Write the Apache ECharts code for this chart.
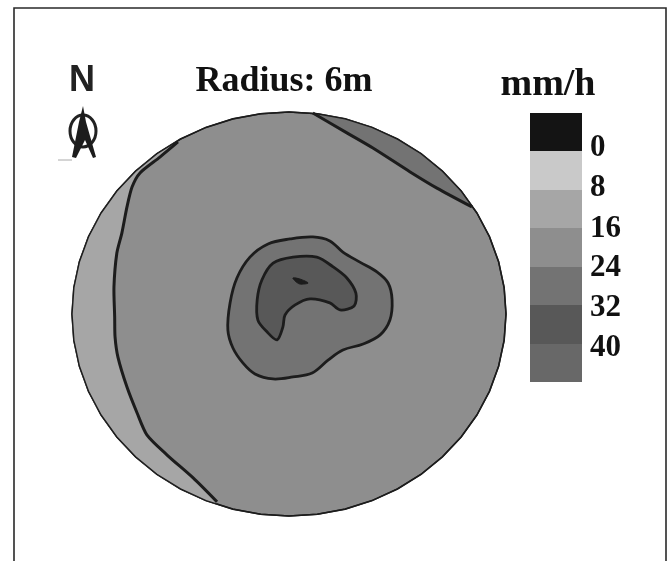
<!DOCTYPE html>
<html><head><meta charset="utf-8">
<style>html,body{margin:0;padding:0;background:#fff}#c{width:672px;height:561px}</style>
<script src="https://cdn.jsdelivr.net/npm/echarts@6/dist/echarts.min.js"></script>
</head><body><div id="c"></div>
<script>
// Contours in metres from plot centre (x east, y north)
const westContour=[[-3.07,5.11],[-3.57,4.66],[-4.12,4.19],[-4.34,3.77],[-4.48,3.18],[-4.62,2.41],[-4.76,1.81],[-4.84,0.80],[-4.82,-0.09],[-4.81,-0.68],[-4.73,-1.28],[-4.48,-2.17],[-4.20,-2.94],[-3.93,-3.59],[-3.37,-4.19],[-2.65,-4.87],[-1.99,-5.58]];
const northEastContour=[[0.66,5.97],[1.60,5.38],[2.32,4.93],[3.35,4.22],[4.09,3.74],[5.06,3.18]];
const middleContour=[[-0.58,2.08],[0.03,2.23],[0.66,2.29],[1.13,2.17],[1.49,1.84],[1.96,1.54],[2.43,1.25],[2.74,0.92],[2.85,0.42],[2.79,-0.18],[2.52,-0.62],[2.05,-0.89],[1.49,-1.07],[1.08,-1.37],[0.64,-1.75],[0.11,-1.87],[-0.44,-1.93],[-0.94,-1.78],[-1.27,-1.46],[-1.55,-1.01],[-1.69,-0.48],[-1.63,0.33],[-1.44,1.07],[-1.08,1.69]];
const innerContour=[[-0.88,0.42],[-0.75,1.01],[-0.44,1.51],[0.11,1.69],[0.77,1.69],[1.22,1.40],[1.60,1.07],[1.85,0.62],[1.80,0.24],[1.41,0.12],[1.13,0.33],[0.58,0.45],[0.17,0.27],[-0.11,-0.03],[-0.17,-0.39],[-0.33,-0.77],[-0.61,-0.53],[-0.86,-0.18]];
const coreContour=[[0.11,1.07],[0.30,1.04],[0.53,0.92],[0.30,0.89],[0.17,0.98]];
const radius=6;
const legendColors=['#141414','#c9c9c9','#a6a6a6','#8e8e8e','#737373','#585858','#686868'];
const legendBands=[0,1,2,3,4,5,6];
const legendLabels=['0','8','16','24','32','40'];
const legendLabelY=[148,188,229,268,308,348];
const LINE='#1c1c1c', SERIF='"Liberation Serif",serif';

function arc(from,to,clockwise){
  let a=Math.atan2(from[1],from[0]),b=Math.atan2(to[1],to[0]);
  if(clockwise){while(b>a)b-=2*Math.PI}else{while(b<a)b+=2*Math.PI}
  const pts=[];
  for(let i=0;i<=48;i++){const t=a+(b-a)*i/48;pts.push([radius*Math.cos(t),radius*Math.sin(t)])}
  return pts;
}
const disc=arc([1,0],[1,-1e-6],false);
const layers=[
 {pts:disc,fill:legendColors[3],stroke:LINE,w:1.6,smooth:0},
 {pts:westContour.concat(arc(westContour[westContour.length-1],westContour[0],true)),fill:legendColors[2],stroke:null},
 {pts:northEastContour.concat(arc(northEastContour[northEastContour.length-1],northEastContour[0],false)),fill:legendColors[4],stroke:null},
 {pts:disc,fill:'transparent',stroke:LINE,w:1.4,smooth:0},
 {line:westContour,stroke:LINE,w:3},
 {line:northEastContour,stroke:LINE,w:3},
 {pts:middleContour,fill:legendColors[4],stroke:LINE,w:2.8,smooth:0.35},
 {pts:innerContour,fill:legendColors[5],stroke:LINE,w:2.8,smooth:0.3},
 {pts:coreContour,fill:LINE,stroke:LINE,w:1,smooth:0.3}
];
function renderLayer(params,api){
  const l=layers[api.value(0)];
  if(l.line){
    return {type:'polyline',shape:{points:l.line.map(p=>api.coord(p)),smooth:0.25},style:{fill:null,stroke:l.stroke,lineWidth:l.w}};
  }
  return {type:'polygon',shape:{points:l.pts.map(p=>api.coord(p)),smooth:l.smooth||0},
    style:{fill:l.fill,stroke:l.stroke,lineWidth:l.w||0}};
}
function renderBand(params,api){
  const i=api.value(0),a=api.coord([0,i]),b=api.coord([1,i+1]);
  return {type:'rect',shape:{x:a[0],y:Math.round(a[1]),width:b[0]-a[0],height:Math.round(b[1])-Math.round(a[1])},style:{fill:legendColors[i]}};
}
const hidden=(o)=>Object.assign({type:'value',show:false,splitLine:{show:false}},o);
const text=(x,y,t,size,align)=>({type:'text',x:x,y:y,style:{text:t,font:'bold '+size+'px '+SERIF,fill:'#111',textAlign:align||'left',textVerticalAlign:'middle'}});
const chart=echarts.init(document.getElementById('c'),null,{renderer:'canvas'});
chart.setOption({
 animation:false,backgroundColor:'#fff',
 grid:[{left:72,top:112,width:434,height:404},{left:530,top:113,width:52,height:269}],
 xAxis:[hidden({min:-radius,max:radius,gridIndex:0}),hidden({min:0,max:1,gridIndex:1})],
 yAxis:[hidden({min:-radius,max:radius,gridIndex:0}),hidden({min:0,max:7,inverse:true,gridIndex:1})],
 series:[
  {type:'custom',xAxisIndex:0,yAxisIndex:0,clip:false,silent:true,data:layers.map((_,i)=>[i]),encode:{x:[],y:[]},renderItem:renderLayer},
  {type:'custom',xAxisIndex:1,yAxisIndex:1,silent:true,data:legendBands.map(i=>[i]),encode:{x:[],y:[]},renderItem:renderBand}
 ],
 graphic:[
  {type:'polyline',shape:{points:[[14,561],[14,8],[666,8],[666,561]]},style:{fill:null,stroke:'#2a2a2a',lineWidth:1.6}},
  text(284,82,'Radius: 6m',36,'center'),
  text(548,85,'mm/h',38,'center'),
  {type:'text',x:82,y:81,style:{text:'N',font:'bold 36px "Liberation Sans",sans-serif',fill:'#222',textAlign:'center',textVerticalAlign:'middle'}},
  {type:'ellipse',shape:{cx:83,cy:131,rx:13,ry:16},style:{fill:null,stroke:'#222',lineWidth:3}},
  {type:'polygon',shape:{points:[[83,106],[86,122],[96,157],[93,158],[85,140],[76,158],[72,157],[79,122]]},style:{fill:'#1c1c1c'}},
  {type:'line',shape:{x1:58,y1:160,x2:72,y2:160},style:{stroke:'#aaa',lineWidth:1}}
 ].concat(legendLabels.map((t,i)=>text(590,legendLabelY[i],t,31)))
});
</script></body></html>
